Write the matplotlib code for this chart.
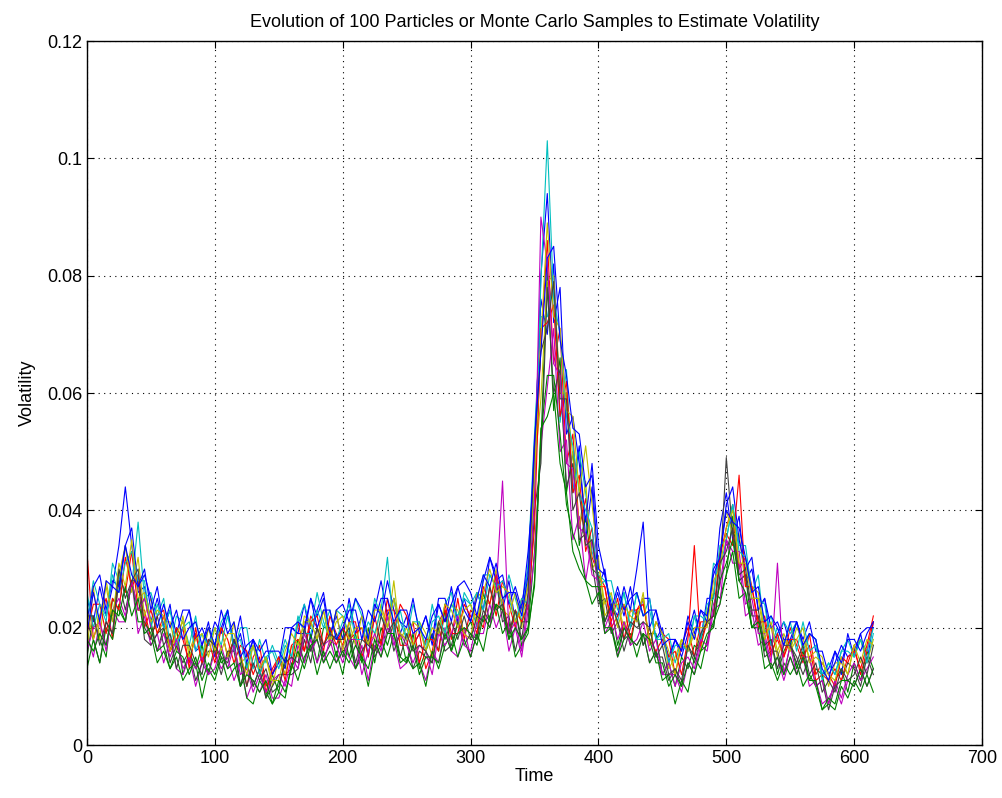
import numpy as np
import matplotlib
matplotlib.use('Agg')
import matplotlib.pyplot as plt

# time axis: one reading every 5 steps (0 .. 615)
time = np.arange(0, 620, 5)

# volatility of each particle, in units of 1e-3
p01 = [25, 21, 27, 22, 27, 34, 44, 34, 26, 27, 21, 25, 20, 24, 16, 20, 23, 16, 17, 21,
       15, 20, 23, 16, 19, 14, 18, 13, 15, 12, 15, 13, 20, 19, 24, 18, 23, 26, 19, 22,
       18, 25, 19, 22, 15, 23, 28, 22, 25, 19, 22, 17, 19, 22, 17, 24, 21, 27, 21, 25,
       21, 26, 23, 32, 29, 23, 28, 21, 24, 30, 50, 76, 70, 82, 56, 60, 43, 51, 35, 44,
       27, 30, 22, 26, 22, 27, 21, 25, 25, 18, 20, 14, 18, 15, 19, 23, 18, 25, 25, 37,
       43, 35, 39, 28, 30, 23, 25, 17, 19, 21, 17, 21, 17, 19, 18, 12, 13, 16, 12, 19,
       15, 19, 14, 21]
p02 = [15, 22, 18, 15, 25, 23, 21, 28, 23, 25, 21, 16, 20, 16, 20, 12, 16, 13, 17, 12,
       17, 14, 15, 18, 10, 14, 10, 13, 8, 12, 9, 15, 13, 18, 14, 19, 14, 20, 20, 15,
       20, 15, 19, 14, 20, 14, 20, 17, 21, 19, 14, 19, 13, 16, 19, 16, 23, 16, 21, 19,
       21, 18, 26, 21, 27, 24, 18, 23, 17, 20, 33, 51, 81, 57, 66, 43, 50, 34, 39, 30,
       29, 21, 24, 17, 21, 17, 23, 17, 19, 19, 12, 14, 10, 15, 13, 17, 16, 17, 26, 25,
       29, 39, 28, 29, 20, 22, 16, 18, 12, 16, 18, 13, 16, 11, 13, 12, 7, 11, 13, 9,
       14, 11, 16, 13]
p03 = [33, 18, 22, 25, 18, 29, 26, 33, 23, 23, 18, 22, 23, 16, 18, 20, 13, 20, 14, 18,
       17, 20, 15, 18, 16, 10, 15, 17, 10, 12, 15, 12, 13, 21, 16, 22, 20, 16, 22, 19,
       17, 21, 21, 15, 19, 16, 18, 25, 19, 24, 22, 17, 19, 13, 16, 21, 23, 18, 25, 18,
       23, 22, 20, 27, 22, 28, 24, 20, 25, 23, 44, 68, 86, 65, 71, 48, 53, 37, 42, 32,
       29, 27, 21, 25, 18, 23, 23, 25, 17, 21, 19, 18, 12, 17, 20, 15, 21, 21, 22, 32,
       37, 41, 30, 32, 27, 20, 22, 16, 18, 15, 20, 17, 14, 19, 12, 14, 12, 10, 15, 14,
       17, 12, 16, 21]
p04 = [21, 28, 24, 21, 31, 28, 34, 27, 38, 25, 26, 22, 25, 17, 22, 21, 17, 22, 15, 20,
       17, 21, 23, 16, 20, 20, 13, 18, 14, 17, 14, 18, 15, 21, 24, 20, 26, 21, 18, 23,
       22, 19, 25, 22, 18, 25, 22, 20, 25, 21, 18, 24, 20, 17, 24, 19, 24, 26, 20, 26,
       24, 20, 29, 29, 27, 24, 29, 25, 21, 31, 53, 73, 73, 79, 55, 64, 43, 50, 43, 33,
       29, 28, 28, 23, 26, 20, 26, 22, 25, 18, 18, 19, 14, 18, 16, 22, 22, 21, 31, 30,
       35, 41, 34, 34, 26, 29, 19, 22, 18, 21, 19, 21, 16, 19, 18, 12, 14, 12, 16, 18,
       15, 18, 16, 20]
p05 = [19, 15, 21, 17, 23, 21, 21, 28, 19, 22, 17, 19, 14, 18, 13, 12, 15, 10, 14, 12,
       16, 13, 15, 11, 14, 8, 11, 9, 12, 8, 8, 11, 10, 17, 14, 18, 14, 17, 18, 14,
       17, 15, 13, 17, 11, 17, 15, 20, 18, 13, 14, 17, 14, 11, 16, 14, 20, 16, 15, 20,
       15, 19, 19, 24, 20, 23, 16, 20, 15, 23, 32, 51, 61, 71, 50, 52, 35, 39, 28, 35,
       26, 19, 21, 15, 20, 18, 17, 19, 14, 16, 12, 12, 12, 9, 14, 12, 17, 16, 23, 24,
       35, 31, 31, 22, 23, 17, 18, 13, 15, 11, 15, 12, 15, 10, 11, 7, 8, 10, 7, 11,
       10, 13, 10, 13]
p06 = [16, 27, 18, 28, 22, 29, 34, 26, 32, 22, 25, 19, 21, 21, 16, 22, 16, 19, 14, 20,
       16, 20, 15, 21, 14, 15, 17, 12, 15, 10, 15, 12, 17, 15, 22, 21, 18, 23, 17, 23,
       16, 21, 17, 22, 19, 18, 24, 20, 28, 18, 20, 17, 21, 19, 15, 21, 19, 24, 23, 19,
       18, 26, 25, 24, 30, 23, 22, 26, 20, 28, 47, 59, 79, 80, 60, 60, 49, 37, 45, 30,
       32, 22, 24, 24, 20, 23, 22, 25, 17, 21, 19, 13, 15, 18, 16, 19, 16, 23, 26, 33,
       40, 36, 36, 27, 27, 26, 19, 20, 15, 18, 16, 20, 18, 15, 16, 15, 10, 14, 14, 12,
       17, 18, 14, 18]
p07 = [21, 18, 14, 21, 19, 28, 23, 28, 28, 18, 17, 19, 20, 14, 17, 14, 16, 11, 14, 16,
       16, 12, 16, 16, 10, 14, 10, 13, 8, 10, 12, 12, 12, 13, 18, 14, 20, 15, 17, 19,
       15, 19, 13, 16, 18, 15, 17, 22, 16, 19, 18, 13, 16, 15, 14, 20, 16, 17, 21, 17,
       19, 18, 23, 21, 28, 21, 22, 16, 21, 21, 40, 48, 78, 60, 64, 44, 48, 35, 36, 31,
       24, 25, 19, 21, 16, 20, 22, 17, 20, 15, 15, 11, 13, 10, 17, 14, 18, 21, 20, 29,
       49, 36, 28, 29, 22, 22, 15, 16, 16, 12, 17, 15, 12, 15, 10, 11, 6, 10, 11, 14,
       13, 10, 15, 12]
p08 = [21, 27, 29, 23, 28, 27, 34, 37, 27, 30, 23, 27, 20, 23, 19, 23, 23, 18, 20, 17,
       21, 19, 23, 17, 22, 15, 18, 16, 18, 12, 14, 20, 20, 19, 19, 25, 22, 25, 18, 23,
       24, 21, 25, 23, 18, 24, 22, 28, 23, 21, 20, 25, 19, 22, 18, 25, 25, 21, 27, 28,
       26, 22, 28, 32, 28, 29, 24, 27, 23, 33, 47, 80, 94, 72, 78, 53, 56, 48, 38, 48,
       34, 29, 24, 22, 27, 23, 30, 38, 20, 23, 19, 15, 18, 16, 22, 19, 23, 21, 30, 32,
       41, 44, 35, 30, 32, 23, 25, 20, 21, 18, 18, 21, 18, 21, 16, 16, 12, 14, 17, 15,
       16, 19, 20, 20]
p09 = [13, 18, 14, 20, 18, 24, 21, 28, 21, 21, 19, 14, 16, 13, 15, 11, 13, 14, 8, 13,
       11, 15, 11, 13, 14, 8, 7, 11, 9, 7, 9, 8, 14, 11, 15, 17, 12, 16, 13, 16,
       12, 18, 13, 15, 10, 16, 18, 15, 19, 14, 15, 13, 14, 10, 16, 13, 17, 19, 15, 18,
       15, 19, 16, 22, 24, 19, 21, 15, 17, 19, 28, 54, 56, 60, 48, 43, 33, 30, 28, 24,
       26, 19, 20, 15, 18, 19, 15, 19, 14, 16, 11, 12, 7, 11, 9, 15, 13, 18, 21, 24,
       29, 33, 25, 26, 20, 20, 13, 14, 11, 14, 12, 14, 10, 12, 10, 6, 7, 6, 10, 8,
       11, 9, 12, 9]
p10 = [19, 24, 24, 19, 25, 23, 32, 27, 29, 20, 23, 19, 22, 16, 20, 18, 14, 19, 14, 18,
       14, 20, 18, 14, 17, 16, 12, 15, 9, 13, 15, 11, 17, 18, 16, 21, 22, 17, 20, 17,
       20, 18, 19, 20, 15, 22, 17, 23, 23, 17, 17, 21, 14, 18, 18, 16, 24, 19, 19, 24,
       22, 19, 27, 24, 29, 25, 19, 23, 21, 24, 37, 71, 72, 75, 56, 62, 43, 46, 33, 37,
       27, 27, 20, 22, 24, 18, 23, 24, 18, 16, 18, 15, 16, 12, 18, 34, 17, 21, 22, 33,
       36, 34, 46, 27, 27, 21, 21, 15, 19, 15, 18, 18, 15, 17, 11, 12, 11, 13, 11, 15,
       16, 13, 17, 22]
p11 = [26, 20, 24, 22, 29, 26, 31, 33, 28, 28, 20, 24, 20, 23, 17, 20, 21, 16, 19, 17,
       20, 17, 22, 17, 18, 13, 17, 12, 15, 16, 13, 17, 15, 22, 19, 19, 23, 20, 23, 18,
       21, 24, 18, 18, 21, 19, 23, 32, 19, 23, 18, 21, 21, 16, 21, 22, 19, 24, 22, 25,
       24, 26, 23, 29, 27, 28, 25, 21, 25, 24, 44, 79, 103, 76, 70, 56, 51, 43, 40, 37,
       27, 28, 25, 21, 26, 20, 26, 22, 23, 18, 19, 14, 17, 17, 16, 22, 18, 24, 25, 34,
       35, 41, 33, 32, 25, 25, 24, 17, 20, 17, 21, 16, 21, 16, 17, 11, 14, 12, 16, 16,
       15, 18, 14, 19]
p12 = [16, 20, 21, 16, 23, 25, 22, 28, 23, 25, 20, 16, 19, 15, 18, 13, 15, 13, 15, 12,
       13, 17, 13, 17, 12, 13, 9, 12, 9, 11, 12, 10, 15, 13, 19, 16, 18, 14, 18, 17,
       14, 18, 18, 12, 16, 19, 16, 22, 17, 19, 17, 14, 17, 16, 12, 19, 17, 19, 22, 17,
       16, 21, 22, 20, 26, 45, 19, 21, 16, 25, 42, 90, 82, 65, 63, 48, 47, 37, 36, 29,
       28, 20, 23, 18, 21, 17, 18, 21, 16, 18, 12, 14, 10, 14, 15, 13, 18, 17, 24, 27,
       35, 33, 33, 24, 25, 19, 19, 14, 31, 12, 17, 12, 15, 15, 10, 11, 7, 11, 8, 12,
       14, 11, 13, 15]
p13 = [23, 18, 22, 27, 21, 31, 27, 35, 25, 26, 21, 23, 22, 16, 19, 21, 15, 18, 19, 15,
       20, 16, 19, 19, 15, 12, 17, 13, 15, 11, 11, 16, 19, 17, 21, 21, 18, 23, 18, 21,
       22, 18, 20, 20, 17, 23, 23, 20, 25, 19, 18, 21, 20, 16, 20, 19, 24, 23, 20, 23,
       24, 21, 26, 30, 26, 27, 26, 21, 23, 27, 46, 69, 89, 73, 71, 57, 56, 43, 51, 41,
       31, 24, 26, 20, 24, 22, 21, 26, 17, 21, 19, 16, 12, 18, 16, 20, 20, 20, 28, 30,
       37, 40, 31, 31, 25, 25, 18, 21, 16, 19, 16, 18, 20, 14, 15, 14, 12, 11, 15, 12,
       17, 14, 18, 17]
p14 = [22, 22, 17, 21, 19, 30, 25, 28, 30, 20, 18, 22, 17, 19, 13, 17, 17, 14, 12, 18,
       17, 15, 14, 18, 15, 10, 14, 11, 13, 9, 10, 14, 15, 14, 20, 16, 20, 17, 19, 18,
       18, 20, 14, 18, 17, 16, 22, 19, 21, 15, 19, 16, 17, 16, 14, 21, 18, 21, 18, 22,
       18, 22, 21, 27, 23, 24, 19, 23, 18, 26, 51, 67, 71, 79, 59, 59, 40, 43, 34, 35,
       28, 21, 24, 21, 18, 21, 20, 21, 20, 15, 17, 12, 13, 11, 17, 15, 19, 21, 22, 31,
       33, 37, 29, 30, 23, 23, 17, 18, 13, 17, 17, 14, 17, 12, 14, 9, 11, 9, 13, 11,
       12, 15, 12, 17]
p15 = [19, 26, 21, 28, 27, 26, 34, 29, 27, 29, 25, 20, 24, 20, 23, 18, 20, 21, 17, 20,
       17, 23, 19, 21, 15, 17, 18, 14, 16, 16, 16, 14, 20, 21, 20, 25, 20, 23, 23, 18,
       20, 23, 23, 18, 23, 21, 25, 25, 21, 23, 23, 19, 20, 18, 22, 24, 21, 24, 27, 23,
       21, 25, 29, 27, 31, 25, 26, 26, 22, 29, 52, 67, 83, 85, 69, 63, 54, 53, 44, 46,
       30, 29, 23, 27, 23, 25, 26, 22, 23, 23, 17, 18, 18, 16, 21, 18, 23, 22, 29, 32,
       40, 38, 37, 32, 26, 27, 21, 22, 20, 17, 21, 21, 17, 19, 18, 13, 11, 16, 14, 18,
       18, 16, 19, 21]
p16 = [18, 16, 19, 17, 23, 22, 27, 22, 25, 19, 20, 16, 17, 13, 16, 15, 12, 15, 11, 14,
       12, 16, 13, 14, 10, 12, 11, 9, 11, 7, 11, 9, 13, 16, 13, 17, 18, 14, 16, 14,
       16, 14, 17, 15, 13, 18, 15, 19, 19, 15, 14, 17, 12, 15, 15, 14, 19, 16, 19, 20,
       19, 17, 22, 20, 24, 23, 18, 20, 18, 20, 27, 53, 63, 63, 53, 41, 36, 33, 28, 27,
       27, 20, 20, 16, 20, 18, 17, 19, 18, 14, 14, 10, 12, 10, 14, 12, 16, 19, 20, 28,
       31, 35, 28, 26, 20, 21, 17, 13, 15, 12, 15, 12, 15, 11, 11, 6, 8, 7, 11, 11,
       10, 13, 10, 13]

particles = [p01, p02, p03, p04, p05, p06, p07, p08,
             p09, p10, p11, p12, p13, p14, p15, p16]

# matlab default line colours
colors = ['#0000ff', '#008000', '#ff0000', '#00bfbf', '#bf00bf', '#bfbf00', '#404040']

plt.rcParams['font.family'] = ['Liberation Sans', 'DejaVu Sans']
plt.rcParams['font.size'] = 13

fig = plt.figure(figsize=(10.03, 7.98), dpi=100)
ax = fig.add_axes([0.0867, 0.0664, 0.8924, 0.8822])

for i, p in enumerate(particles):
    ax.plot(time, np.array(p) / 1000.0, color=colors[i % len(colors)], lw=0.8)

ax.set_xlim(0, 700)
ax.set_ylim(0, 0.12)
ax.set_xticks(np.arange(0, 800, 100))
ax.set_yticks(np.arange(0, 0.13, 0.02))
ax.set_yticklabels(['0', '0.02', '0.04', '0.06', '0.08', '0.1', '0.12'])
ax.tick_params(direction='in', length=5, width=0.8, top=True, right=True)
ax.grid(True, color='black', linestyle=(0, (1, 4)), linewidth=0.8)
for s in ax.spines.values():
    s.set_linewidth(1.0)

ax.set_title('Evolution of 100 Particles or Monte Carlo Samples to Estimate Volatility', fontsize=13, pad=10)
ax.set_xlabel('Time', labelpad=1)
ax.set_ylabel('Volatility', labelpad=8)

fig.savefig('out.png', dpi=100)
